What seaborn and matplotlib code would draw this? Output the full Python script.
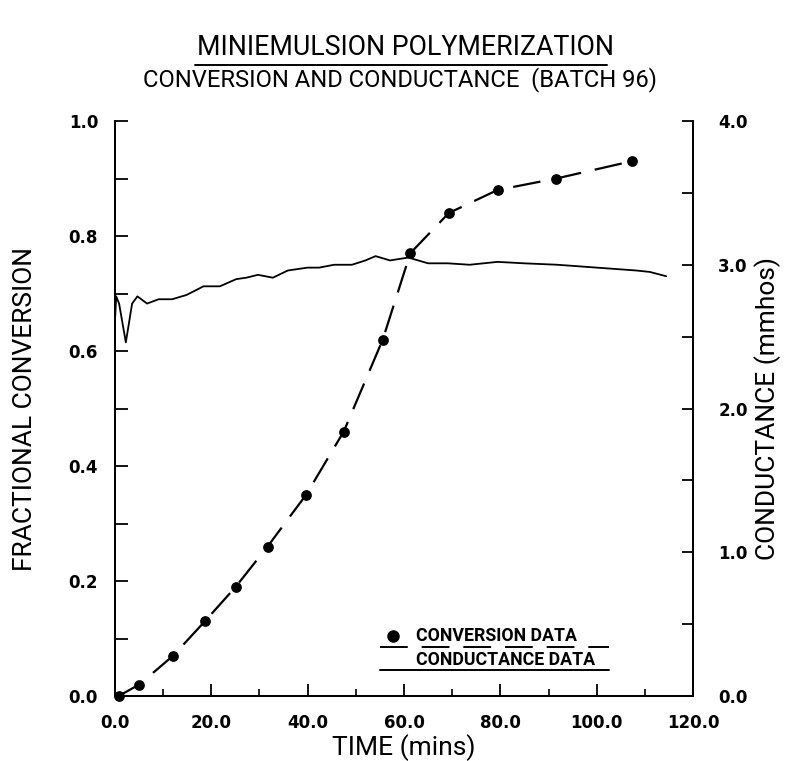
import matplotlib
matplotlib.use("Agg")
import matplotlib.pyplot as plt
import seaborn as sns
import pandas as pd

# Conversion samples (time in minutes, fractional conversion)
conv_time = [0.8, 5.1, 12.1, 18.7, 25.1, 31.7, 39.7, 47.5, 55.6, 61.3, 69.3, 79.4, 91.6, 107.2]
conv_value = [0.0, 0.02, 0.07, 0.13, 0.19, 0.26, 0.35, 0.46, 0.62, 0.77, 0.84, 0.88, 0.90, 0.93]

# Conductance trace (time in minutes, mmhos)
cond_time = [0.0, 0.3, 0.9, 2.3, 3.6, 4.7, 6.7, 9.1, 11.9, 14.9, 18.4, 21.8, 25.2, 27.3,
             29.7, 32.8, 35.9, 40.0, 42.4, 45.5, 49.2, 52.0, 54.1, 57.1, 60.9, 65.0,
             69.1, 73.6, 79.4, 84.9, 91.8, 100.0, 108.2, 111.0, 114.4]
cond_value = [2.58, 2.78, 2.73, 2.46, 2.73, 2.78, 2.73, 2.76, 2.76, 2.79, 2.85, 2.85, 2.90, 2.91,
              2.93, 2.91, 2.96, 2.98, 2.98, 3.00, 3.00, 3.03, 3.06, 3.03, 3.05, 3.01,
              3.01, 3.00, 3.02, 3.01, 3.00, 2.98, 2.96, 2.95, 2.92]

x_ticks = [0, 20, 40, 60, 80, 100, 120]
x_labels = ["0.0", "20.0", "40.0", "60.0", "80.0", "100.0", "120.0"]
left_ticks = [0.0, 0.2, 0.4, 0.6, 0.8, 1.0]
left_labels = ["0.0", "0.2", "0.4", "0.6", "0.8", "1.0"]
right_ticks = [0.0, 1.0, 2.0, 3.0, 4.0]
right_labels = ["0.0", "1.0", "2.0", "3.0", "4.0"]

sns.set_style("ticks")
plt.rcParams["lines.scale_dashes"] = False
plt.rcParams["text.color"] = "black"
plt.rcParams["axes.labelcolor"] = "black"

label_font = dict(family=["Roboto", "DejaVu Sans"], fontsize=19, color="black")
tick_font = dict(family=["DejaVu Sans"], fontsize=12, fontweight="bold", color="black")
key_font = dict(family=["Roboto", "DejaVu Sans"], fontsize=12.8, fontweight="bold", color="black")

conv_df = pd.DataFrame({"time": conv_time, "conversion": conv_value})
cond_df = pd.DataFrame({"time": cond_time, "conductance": cond_value})

fig = plt.figure(figsize=(7.86, 7.61), dpi=100)
ax = fig.add_axes([0.146, 0.0854, 0.736, 0.7556])
ax2 = ax.twinx()

# conductance trace on the right axis
sns.lineplot(data=cond_df, x="time", y="conductance", ax=ax2, color="black",
             linewidth=1.3, estimator=None, sort=False)

# conversion points joined by a long-dash line
sns.lineplot(data=conv_df, x="time", y="conversion", ax=ax, color="black",
             linewidth=1.6, dashes=False, estimator=None, sort=False)
ax.lines[-1].set_dashes((20, 10))
sns.scatterplot(data=conv_df, x="time", y="conversion", ax=ax, color="black",
                s=60, edgecolor="black", linewidth=0, zorder=5, clip_on=False)

ax.set_xlim(0, 120)
ax.set_ylim(0, 1.0)
ax2.set_ylim(0, 4.0)

for a in (ax, ax2):
    a.spines["top"].set_visible(False)
    for s in a.spines.values():
        s.set_linewidth(1.4)
        s.set_color("black")

ax.set_xticks(x_ticks)
ax.set_xticklabels(x_labels, **tick_font)
ax.set_xticks([10, 30, 50, 70, 90, 110], minor=True)
ax.set_yticks(left_ticks)
ax.set_yticklabels(left_labels, **tick_font)
ax.set_yticks([0.1, 0.3, 0.5, 0.7, 0.9], minor=True)
ax2.set_yticks(right_ticks)
ax2.set_yticklabels(right_labels, **tick_font)
ax2.set_yticks([0.5, 1.5, 2.5, 3.5], minor=True)

ax.tick_params(axis="x", which="major", direction="in", length=9, width=1.3, pad=13, colors="black")
ax.tick_params(axis="x", which="minor", direction="in", length=5, width=1.2, colors="black")
ax.tick_params(axis="y", which="both", direction="in", length=9, width=1.3, pad=12, colors="black")
ax2.tick_params(axis="y", which="both", direction="in", length=8, width=1.3, pad=18, colors="black")

ax.set_xlabel("TIME (mins)", **label_font)
ax.set_ylabel("FRACTIONAL CONVERSION", **label_font)
ax2.set_ylabel("CONDUCTANCE (mmhos)", **label_font)
ax.xaxis.set_label_coords(0.5, -0.089)
ax.yaxis.set_label_coords(-0.156, 0.5)
ax2.yaxis.set_label_coords(1.129, 0.5)
ax.xaxis.label.set_va("center")
ax.yaxis.label.set_va("center")
ax2.yaxis.label.set_va("center")

# key in the lower right of the plot area
ax.plot([0.481], [0.104], "o", color="black", markersize=8, transform=ax.transAxes, clip_on=False)
ax.text(0.521, 0.104, "CONVERSION DATA", transform=ax.transAxes, va="center", ha="left", **key_font)
ax.plot([0.459, 0.854], [0.085, 0.085], color="black", linewidth=1.4, transform=ax.transAxes,
        dashes=(20, 10))
ax.text(0.521, 0.0626, "CONDUCTANCE DATA", transform=ax.transAxes, va="center", ha="left", **key_font)
ax.plot([0.459, 0.854], [0.045, 0.045], color="black", linewidth=1.4, transform=ax.transAxes)

# titles
fig.text(0.516, 0.938, "MINIEMULSION POLYMERIZATION", ha="center", va="center",
         family=["Roboto", "DejaVu Sans"], fontsize=19.3, color="black")
fig.add_artist(plt.Line2D([0.248, 0.772], [0.915, 0.915], color="black", linewidth=1.4,
                          transform=fig.transFigure))
fig.text(0.509, 0.896, "CONVERSION AND CONDUCTANCE  (BATCH 96)", ha="center", va="center",
         family=["Roboto", "DejaVu Sans"], fontsize=17.1, color="black")

fig.savefig("out.png", dpi=100)
